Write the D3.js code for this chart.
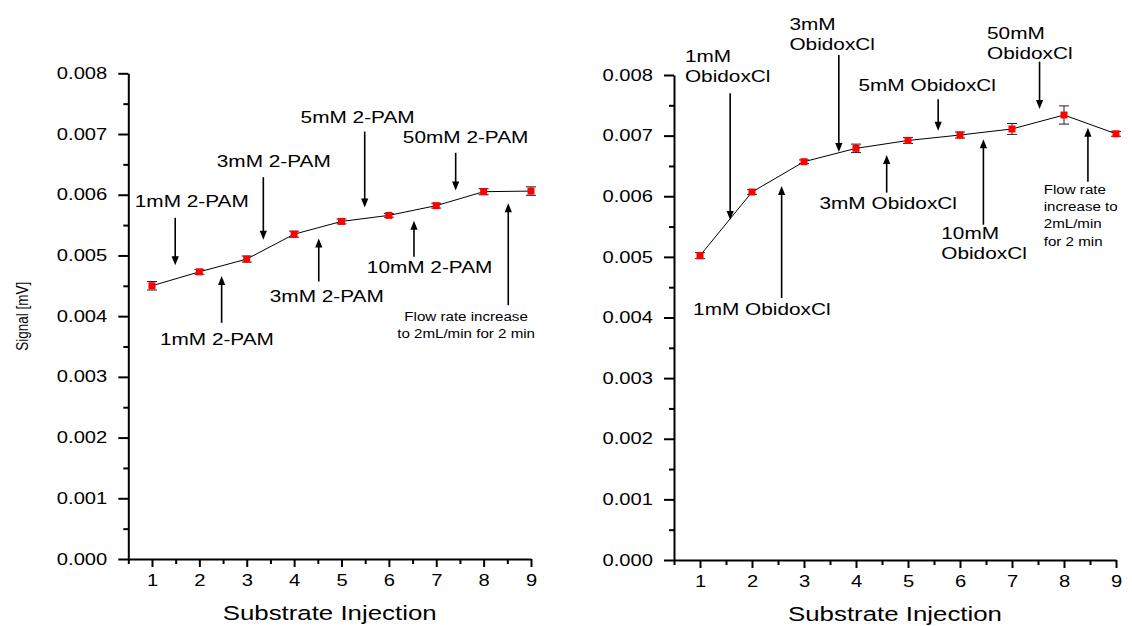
<!DOCTYPE html>
<html><head><meta charset="utf-8">
<script src="https://cdn.jsdelivr.net/npm/d3@7"></script>
<style>
body{margin:0;background:#fff}
svg text{font-family:"Liberation Sans",Arial,Helvetica,sans-serif;fill:#000}
</style>
</head><body>
<svg id="c" width="1132" height="626"></svg>
<script>
// ---------- data ----------
const injections = [1, 2, 3, 4, 5, 6, 7, 8, 9];
const pamSignal = [0.00450, 0.00473, 0.00494, 0.00535, 0.00556, 0.00566, 0.00582, 0.00605, 0.00606];
const pamError  = [0.00007, 0.00004, 0.00005, 0.00005, 0.00004, 0.00003, 0.00004, 0.00005, 0.00007];
const obiSignal = [0.00502, 0.00607, 0.00657, 0.00679, 0.00692, 0.00701, 0.00711, 0.00734, 0.00703];
const obiError  = [0.00005, 0.00004, 0.00003, 0.00007, 0.00005, 0.00005, 0.00009, 0.00015, 0.00004];
const xTicks = [1, 2, 3, 4, 5, 6, 7, 8, 9];
const xMinorTicks = [0.5, 1.5, 2.5, 3.5, 4.5, 5.5, 6.5, 7.5, 8.5];
const yTicks = [0, 0.001, 0.002, 0.003, 0.004, 0.005, 0.006, 0.007, 0.008];
const yMinorTicks = [0.0005, 0.0015, 0.0025, 0.0035, 0.0045, 0.0055, 0.0065, 0.0075];
const xTitle = "Substrate Injection";
const yTitle = "Signal [mV]";

// annotations in data coordinates: text anchor (tx, ty = first baseline), arrow at ax from y0 to tip y1
const pamNotes = [
  {lines:["1mM 2-PAM"], tx:1.84, ty:0.00580, anchor:"middle", ax:1.49, y0:0.00562, y1:0.00484},
  {lines:["3mM 2-PAM"], tx:3.57, ty:0.00645, anchor:"middle", ax:3.35, y0:0.00629, y1:0.00526},
  {lines:["5mM 2-PAM"], tx:5.34, ty:0.00718, anchor:"middle", ax:5.49, y0:0.00704, y1:0.00579},
  {lines:["50mM 2-PAM"], tx:7.62, ty:0.00686, anchor:"middle", ax:7.41, y0:0.00669, y1:0.00607},
  {lines:["3mM 2-PAM"], tx:4.69, ty:0.00424, anchor:"middle", ax:4.52, y0:0.00457, y1:0.00528},
  {lines:["10mM 2-PAM"], tx:6.86, ty:0.00471, anchor:"middle", ax:6.53, y0:0.00498, y1:0.00557},
  {lines:["1mM 2-PAM"], tx:2.37, ty:0.00353, anchor:"middle", ax:2.47, y0:0.00389, y1:0.00466},
  {lines:["Flow rate increase", "to 2mL/min for 2 min"], small:true, tx:7.63, ty:0.00392, anchor:"middle", ax:8.52, y0:0.00418, y1:0.00586}
];
const obiNotes = [
  {lines:["1mM", "ObidoxCl"], tx:0.71, ty:0.00822, anchor:"start", ax:1.58, y0:0.00770, y1:0.00561},
  {lines:["3mM", "ObidoxCl"], tx:2.72, ty:0.00875, anchor:"start", ax:3.67, y0:0.00833, y1:0.00673},
  {lines:["5mM ObidoxCl"], tx:5.37, ty:0.00774, anchor:"middle", ax:5.58, y0:0.00760, y1:0.00708},
  {lines:["50mM", "ObidoxCl"], tx:6.52, ty:0.00859, anchor:"start", ax:7.53, y0:0.00822, y1:0.00744},
  {lines:["3mM ObidoxCl"], tx:4.62, ty:0.00579, anchor:"middle", ax:4.59, y0:0.00606, y1:0.00668},
  {lines:["10mM", "ObidoxCl"], tx:5.64, ty:0.00529, anchor:"start", ax:6.45, y0:0.00553, y1:0.00694},
  {lines:["Flow rate", "increase to", "2mL/min", "for 2 min"], small:true, tx:7.61, ty:0.00604, anchor:"start", ax:8.46, y0:0.00624, y1:0.00713},
  {lines:["1mM ObidoxCl"], tx:2.19, ty:0.00404, anchor:"middle", ax:2.57, y0:0.00432, y1:0.00617}
];

// ---------- style ----------
const S = 1.26;          // horizontal glyph stretch of the original
const svg = d3.select("#c");
function stretch(sel){
  sel.each(function(){
    const w = this.getComputedTextLength();
    this.setAttribute("textLength", (w * S).toFixed(2));
    this.setAttribute("lengthAdjust", "spacingAndGlyphs");
  });
}

function panel(cfg){
  const g = svg.append("g");
  const x = d3.scaleLinear().domain([0.5, 9]).range([cfg.left, cfg.right]);
  const y = d3.scaleLinear().domain([0, 0.008]).range([cfg.bottom, cfg.top]);

  // minor ticks
  g.append("g").attr("transform", `translate(0,${cfg.bottom})`)
    .call(d3.axisBottom(x).tickValues(xMinorTicks).tickSize(5).tickSizeOuter(0).tickFormat(""))
    .call(a => a.select(".domain").remove());
  g.append("g").attr("transform", `translate(${cfg.left},0)`)
    .call(d3.axisLeft(y).tickValues(yMinorTicks).tickSize(5).tickSizeOuter(0).tickFormat(""))
    .call(a => a.select(".domain").remove());

  // major axes
  const xa = g.append("g").attr("transform", `translate(0,${cfg.bottom})`)
    .call(d3.axisBottom(x).tickValues(xTicks).tickSize(8).tickSizeOuter(0).tickPadding(8).tickFormat(d3.format("d")));
  const ya = g.append("g").attr("transform", `translate(${cfg.left},0)`)
    .call(d3.axisLeft(y).tickValues(yTicks).tickSize(10).tickSizeOuter(0).tickPadding(11).tickFormat(d3.format(".3f")));
  g.selectAll(".domain, .tick line").attr("stroke", "#000").attr("stroke-width", 2);
  [xa, ya].forEach(a => a.selectAll("text").attr("font-size", 16).attr("font-family", null).attr("fill", "#000"));
  stretch(xa.selectAll("text")); stretch(ya.selectAll("text"));

  // axis titles
  const xt = g.append("text").attr("x", (cfg.left + cfg.right) / 2).attr("y", cfg.bottom + 61)
    .attr("text-anchor", "middle").attr("font-size", 20.5).text(xTitle);
  stretch(xt);
  if (cfg.yTitle){
    g.append("text")
      .attr("transform", `translate(28,${(cfg.top + cfg.bottom) / 2}) scale(${S},1) rotate(-90)`)
      .attr("text-anchor", "middle").attr("font-size", 13.5).text(yTitle);
  }

  // data
  const pts = injections.map((d, i) => ({x: d, v: cfg.values[i], e: cfg.errors[i]}));
  g.append("path").datum(pts)
    .attr("d", d3.line().x(d => x(d.x)).y(d => y(d.v)))
    .attr("fill", "none").attr("stroke", "#000").attr("stroke-width", 1);
  const eb = g.append("g").attr("stroke", "#222").attr("stroke-width", 1);
  pts.forEach(p => {
    eb.append("line").attr("x1", x(p.x)).attr("x2", x(p.x)).attr("y1", y(p.v - p.e)).attr("y2", y(p.v + p.e));
    [p.v - p.e, p.v + p.e].forEach(v =>
      eb.append("line").attr("x1", x(p.x) - 5).attr("x2", x(p.x) + 5).attr("y1", y(v)).attr("y2", y(v)));
  });
  g.selectAll("rect.pt").data(pts).join("rect").attr("class", "pt")
    .attr("x", d => x(d.x) - 3.5).attr("y", d => y(d.v) - 3.5)
    .attr("width", 7).attr("height", 7).attr("fill", "#ff0000");

  // annotations
  cfg.notes.forEach(n => {
    const fs = n.small ? 12 : 16.5, lh = n.small ? 17.3 : 20;
    n.lines.forEach((l, i) => {
      const t = g.append("text").attr("x", x(n.tx)).attr("y", y(n.ty) + i * lh)
        .attr("text-anchor", n.anchor).attr("font-size", fs).text(l);
      stretch(t);
    });
    const ax = x(n.ax), ya0 = y(n.y0), ya1 = y(n.y1);
    const dir = Math.sign(ya1 - ya0), head = 9, hw = 3.6;
    g.append("line").attr("x1", ax).attr("x2", ax).attr("y1", ya0).attr("y2", ya1 - dir * head * 0.8)
      .attr("stroke", "#000").attr("stroke-width", 1.6);
    g.append("path")
      .attr("d", `M${ax},${ya1} L${ax - hw},${ya1 - dir * head} L${ax + hw},${ya1 - dir * head} Z`)
      .attr("fill", "#000");
  });
}

panel({left:128.3, right:531, top:73.3, bottom:559, values:pamSignal, errors:pamError, notes:pamNotes, yTitle:true});
panel({left:674, right:1116, top:75, bottom:560, values:obiSignal, errors:obiError, notes:obiNotes, yTitle:false});
</script>
</body></html>
